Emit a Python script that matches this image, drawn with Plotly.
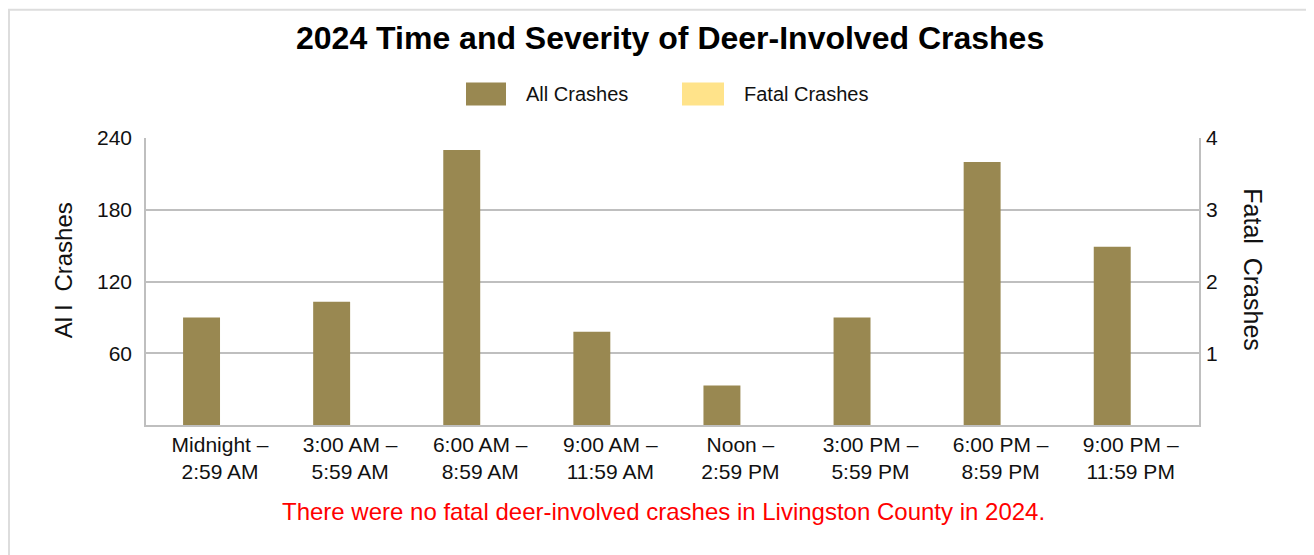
import plotly.graph_objects as go

categories = ["Midnight –<br>2:59 AM", "3:00 AM –<br>5:59 AM", "6:00 AM –<br>8:59 AM",
              "9:00 AM –<br>11:59 AM", "Noon –<br>2:59 PM", "3:00 PM –<br>5:59 PM",
              "6:00 PM –<br>8:59 PM", "9:00 PM –<br>11:59 PM"]
all_crashes = [90, 103, 230, 78, 33, 90, 220, 149]
fatal_crashes = [0, 0, 0, 0, 0, 0, 0, 0]
left_ticks = [60, 120, 180, 240]
right_ticks = [1, 2, 3, 4]

FONT = "Arial, Liberation Sans, sans-serif"
C_ALL = "#998851"
C_FATAL = "#FFE38A"
GRID = "#BFBFBF"

W, H = 1314, 555
OFF = 8  # page body offset
# plot area in screen pixels
SL, SR, ST, SB = 146, 1199, 137.5, 425
L, R, T, B = SL - OFF, SR - OFF, ST - OFF, SB - OFF


def px(x):
    return (x - SL) / (SR - SL)


def py(y):
    return (SB - y) / (SB - ST)


fig = go.Figure()
fig.add_trace(go.Bar(x=categories, y=all_crashes, name="All Crashes",
                     marker=dict(color=C_ALL, line=dict(width=0)),
                     width=0.284, offset=-0.284, showlegend=False, yaxis="y"))
fig.add_trace(go.Bar(x=categories, y=fatal_crashes, name="Fatal Crashes",
                     marker=dict(color=C_FATAL, line=dict(width=0)),
                     width=0.284, offset=0, showlegend=False, yaxis="y2"))

shapes = [
    dict(type="rect", xref="paper", yref="paper", x0=px(9), x1=px(1313), y0=py(600), y1=py(9),
         line=dict(color="#DDDDDD", width=2), fillcolor="rgba(0,0,0,0)", layer="below"),
    dict(type="rect", xref="paper", yref="paper", x0=px(466), x1=px(506), y0=py(105), y1=py(82),
         line=dict(width=0), fillcolor=C_ALL),
    dict(type="rect", xref="paper", yref="paper", x0=px(682), x1=px(724), y0=py(105), y1=py(82),
         line=dict(width=0), fillcolor=C_FATAL),
]

annotations = [
    dict(text="<b>2024 Time and Severity of Deer-Involved Crashes</b>", xref="paper", yref="paper",
         x=px(670), y=py(37), xanchor="center", yanchor="middle", showarrow=False,
         font=dict(family=FONT, size=32, color="#000000")),
    dict(text="All Crashes", xref="paper", yref="paper", x=px(524), y=py(93),
         xanchor="left", yanchor="middle", showarrow=False,
         font=dict(family=FONT, size=20, color="#111111")),
    dict(text="Fatal Crashes", xref="paper", yref="paper", x=px(742), y=py(93),
         xanchor="left", yanchor="middle", showarrow=False,
         font=dict(family=FONT, size=20, color="#111111")),
    dict(text="Al l  Crashes", xref="paper", yref="paper", x=px(63), y=py(270),
         xanchor="center", yanchor="middle", showarrow=False, textangle=-90,
         font=dict(family=FONT, size=24, color="#111111")),
    dict(text="Fatal  Crashes", xref="paper", yref="paper", x=px(1253), y=py(269),
         xanchor="center", yanchor="middle", showarrow=False, textangle=90,
         font=dict(family=FONT, size=25, color="#111111")),
    dict(text="There were no fatal deer-involved crashes in Livingston County in 2024.",
         xref="paper", yref="paper", x=px(663), y=py(512), xanchor="center", yanchor="middle",
         showarrow=False, font=dict(family=FONT, size=24, color="#FF0000")),
]

fig.update_layout(
    width=W, height=H,
    margin=dict(l=L, r=W - R, t=T, b=H - B, pad=0),
    paper_bgcolor="#FFFFFF", plot_bgcolor="#FFFFFF",
    showlegend=False,
    barmode="overlay",
    font=dict(family=FONT, size=21, color="#111111"),
    xaxis=dict(type="category", range=[-0.569, 7.525], showgrid=False,
               showline=True, linecolor=GRID, linewidth=1.5, ticks="",
               tickfont=dict(family=FONT, size=21, color="#111111")),
    yaxis=dict(range=[0, 240], tickvals=left_ticks, showgrid=True, gridcolor=GRID, gridwidth=1.5,
               showline=True, linecolor=GRID, linewidth=1.5, zeroline=False,
               ticks="outside", tickcolor="rgba(0,0,0,0)", ticklen=8,
               tickfont=dict(family=FONT, size=21, color="#111111")),
    yaxis2=dict(range=[0, 4], tickvals=right_ticks, overlaying="y", side="right",
                showgrid=False, showline=True, linecolor=GRID, linewidth=1.5, zeroline=False,
                ticks="outside", tickcolor="rgba(0,0,0,0)", ticklen=1,
                tickfont=dict(family=FONT, size=21, color="#111111")),
    shapes=shapes,
    annotations=annotations,
)

fig.write_html("out.html")
